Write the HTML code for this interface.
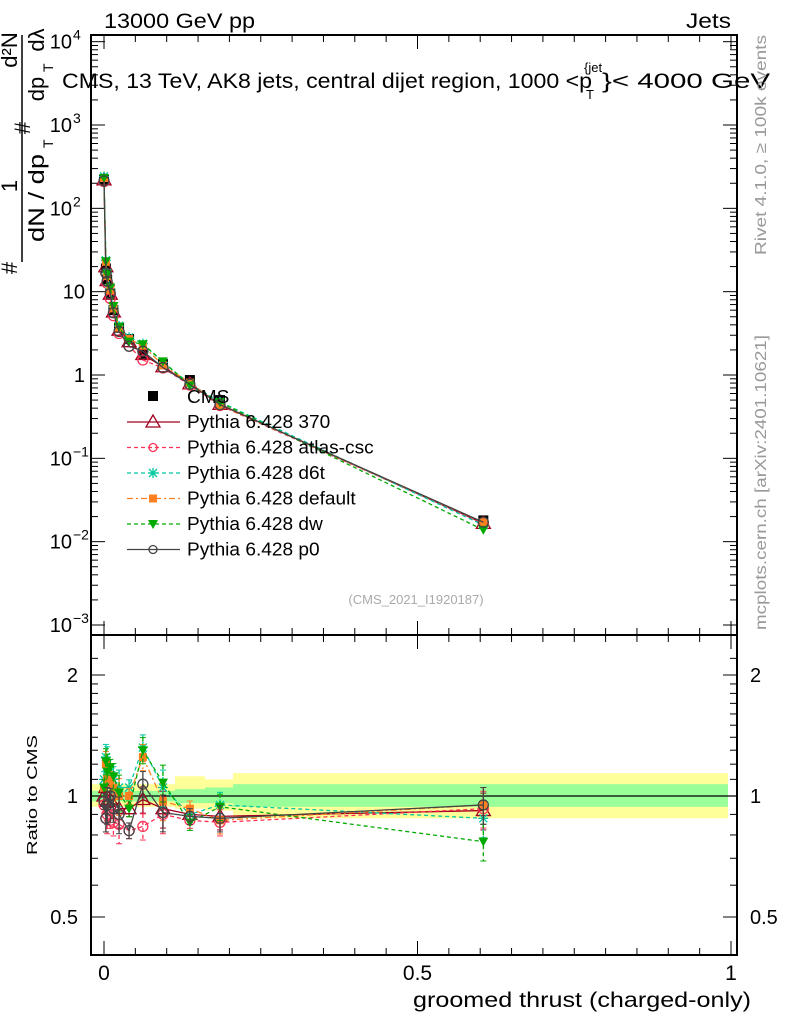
<!DOCTYPE html>
<html><head><meta charset="utf-8"><style>
html,body{margin:0;padding:0;background:#fff;}
svg{display:block;font-family:"Liberation Sans",sans-serif;}
</style></head><body>
<svg id="s" width="786" height="1024" viewBox="0 0 786 1024" xmlns="http://www.w3.org/2000/svg">
<rect width="786" height="1024" fill="#fff"/>
<g id="bands"></g>
<g id="g"></g>
<text x="104" y="28" font-size="21" textLength="151" lengthAdjust="spacingAndGlyphs">13000 GeV pp</text>
<text x="686" y="28" font-size="21" textLength="45" lengthAdjust="spacingAndGlyphs">Jets</text>
<text x="62" y="88" font-size="21" textLength="530" lengthAdjust="spacingAndGlyphs">CMS, 13 TeV, AK8 jets, central dijet region, 1000 &lt;p</text>
<text x="586" y="99" font-size="13">T</text>
<text x="584" y="72" font-size="13">{jet</text>
<text x="602" y="88" font-size="21" textLength="168" lengthAdjust="spacingAndGlyphs">}&lt; 4000 GeV</text>
<text x="416" y="604" font-size="13" fill="#aaa" text-anchor="middle">(CMS_2021_I1920187)</text>
<text x="413" y="1007" font-size="21" textLength="338" lengthAdjust="spacingAndGlyphs">groomed thrust (charged-only)</text>
<text transform="translate(766,255) rotate(-90)" font-size="16" fill="#999" textLength="220" lengthAdjust="spacingAndGlyphs">Rivet 4.1.0, ≥ 100k events</text>
<text transform="translate(766,630) rotate(-90)" font-size="16" fill="#999" textLength="295" lengthAdjust="spacingAndGlyphs">mcplots.cern.ch [arXiv:2401.10621]</text>
<text transform="translate(37,855) rotate(-90)" font-size="15" textLength="120" lengthAdjust="spacingAndGlyphs">Ratio to CMS</text>
<g transform="rotate(-90)" font-size="22">
 <line x1="-262" y1="22" x2="-35" y2="22" stroke="#000" stroke-width="1.5"/>
 <text x="-268" y="17" text-anchor="middle">#</text>
 <text x="-186" y="17" text-anchor="middle">1</text>
 <text x="-128" y="30" text-anchor="middle">#</text>
 <text x="-50" y="17" text-anchor="middle">d²N</text>
 <text x="-198" y="44" text-anchor="middle" textLength="88" lengthAdjust="spacingAndGlyphs">dN / dp</text>
 <text x="-148" y="53" font-size="14">T</text>
 <text x="-89" y="44" text-anchor="middle">dp</text>
 <text x="-72" y="53" font-size="14">T</text>
 <text x="-40" y="44" text-anchor="middle">dλ</text>
</g>
</svg>
<script>
const NS="http://www.w3.org/2000/svg";
const g=document.getElementById('g'),bg=document.getElementById('bands');
function el(t,a,p){const e=document.createElementNS(NS,t);for(const k in a)e.setAttribute(k,a[k]);(p||g).appendChild(e);return e;}
const L=91,R=737,T=35,M=635,B=955;
const X=x=>104+627*x;
const Y=v=>375-83.33*Math.log10(v);
const RY=r=>796-402*Math.log10(r);
const bandY=[[91,175,0.94,1.07,0.97,1.03],[175,205,0.93,1.12,0.96,1.04],[205,233,0.92,1.1,0.96,1.05],[233,728,0.88,1.14,0.94,1.07]];
bandY.forEach(b=>{el('rect',{x:b[0],y:RY(b[3]),width:b[1]-b[0],height:RY(b[2])-RY(b[3]),fill:'#ffff99'},bg);
el('rect',{x:b[0],y:RY(b[5]),width:b[1]-b[0],height:RY(b[4])-RY(b[5]),fill:'#99ff99'},bg);});
el('line',{x1:L,y1:796,x2:R,y2:796,stroke:'#000','stroke-width':1.2},bg);
el('rect',{x:L,y:T,width:R-L,height:M-T,fill:'none',stroke:'#000','stroke-width':2});
el('rect',{x:L,y:M,width:R-L,height:B-M,fill:'none',stroke:'#000','stroke-width':2});
for(let i=-1;i<=20;i++){const x=X(i*0.05);if(x<L||x>R)continue;const big=i%10==0;const l=big?14:7;
[[T,1],[M,-1],[M,1],[B,-1]].forEach(([y,d])=>el('line',{x1:x,x2:x,y1:y,y2:y+d*l,stroke:'#000','stroke-width':1}));}
[[0,'0'],[0.5,'0.5'],[1,'1']].forEach(([v,s])=>el('text',{x:X(v),y:980,'font-size':21,'text-anchor':'middle'}).textContent=s);
for(let e=-3;e<=4;e++){for(let m=1;m<10;m++){const v=m*Math.pow(10,e);const y=Y(v);if(y<T||y>M)continue;const l=m==1?14:7;
el('line',{x1:L,x2:L+l,y1:y,y2:y,stroke:'#000'});el('line',{x1:R,x2:R-l,y1:y,y2:y,stroke:'#000'});}}
const lab=[[-3,'10','−3'],[-2,'10','−2'],[-1,'10','−1'],[0,'1',''],[1,'10',''],[2,'10','2'],[3,'10','3'],[4,'10','4']];
lab.forEach(([e,b,s])=>{const y=Y(Math.pow(10,e))+7;const t=el('text',{x:s?72:85,y:y,'font-size':20,'text-anchor':'end'});t.textContent=b;
if(s){el('text',{x:73,y:y-9,'font-size':14}).textContent=s;}});
[0.5,0.6,0.7,0.8,0.9,1,1.1,1.2,1.3,1.4,1.5,1.6,1.7,1.8,1.9,2,2.2].forEach(v=>{const y=RY(v);if(y<M||y>B)return;const l=(v==0.5||v==1||v==2)?14:7;
el('line',{x1:L,x2:L+l,y1:y,y2:y,stroke:'#000'});el('line',{x1:R,x2:R-l,y1:y,y2:y,stroke:'#000'});});
[[2,'2'],[1,'1'],[0.5,'0.5']].forEach(([v,s])=>{el('text',{x:78,y:RY(v)+7,'font-size':20,'text-anchor':'end'}).textContent=s;el('text',{x:750,y:RY(v)+7,'font-size':20}).textContent=s;});
const xs=[0,0.003,0.005,0.01,0.015,0.024,0.04,0.062,0.094,0.137,0.185,0.605];
const cms=[220,19,14,9.5,6,3.7,2.7,1.8,1.35,0.87,0.5,0.018];
const S=[
{n:'Pythia 6.428 370',c:'#a00020',d:'',m:'tri',r:[1.0,1.05,0.97,0.98,0.95,0.93,0.93,0.98,0.93,0.9,0.89,0.92]},
{n:'Pythia 6.428 atlas-csc',c:'#ff3355',d:'4,3',m:'circ',r:[0.95,0.88,0.9,0.87,0.86,0.85,0.82,0.84,0.9,0.87,0.86,0.93]},
{n:'Pythia 6.428 d6t',c:'#00c8a0',d:'4,3',m:'star',r:[1.1,1.25,1.2,1.15,1.1,1.05,1.05,1.32,1.05,0.9,0.95,0.88]},
{n:'Pythia 6.428 default',c:'#ff8020',d:'6,3,2,3',m:'sq',r:[1.05,1.2,1.1,1.1,1.05,1.0,1.0,1.25,0.97,0.93,0.87,0.95]},
{n:'Pythia 6.428 dw',c:'#00aa00',d:'4,3',m:'tdn',r:[1.05,1.22,1.15,1.18,1.12,1.02,0.93,1.3,1.08,0.86,0.94,0.77]},
{n:'Pythia 6.428 p0',c:'#444',d:'',m:'circ',r:[0.97,0.88,0.95,1.0,0.93,0.9,0.82,1.07,0.91,0.89,0.88,0.95]}];
function mk(t,x,y,c,p,sc){p=p||g;sc=sc||1;
if(t=='tri')el('polygon',{points:`${x},${y-7*sc} ${x-7*sc},${y+5*sc} ${x+7*sc},${y+5*sc}`,fill:'none',stroke:c,'stroke-width':1.3},p);
else if(t=='circ')el('circle',{cx:x,cy:y,r:5*sc,fill:'none',stroke:c,'stroke-width':1.3},p);
else if(t=='sq')el('rect',{x:x-4,y:y-4,width:8,height:8,fill:c},p);
else if(t=='tdn')el('polygon',{points:`${x-5},${y-4} ${x+5},${y-4} ${x},${y+5}`,fill:c},p);
else if(t=='star'){el('path',{d:`M${x-5},${y}H${x+5}M${x},${y-5}V${y+5}M${x-4},${y-4}L${x+4},${y+4}M${x-4},${y+4}L${x+4},${y-4}`,stroke:c,'stroke-width':1.3},p);}
else if(t=='cms')el('rect',{x:x-5,y:y-5,width:10,height:10,fill:'#000'},p);}
const defs=el('defs',{});
const c1=el('clipPath',{id:'c1'},defs);el('rect',{x:L,y:T,width:R-L,height:M-T},c1);
const c2=el('clipPath',{id:'c2'},defs);el('rect',{x:L,y:M,width:R-L,height:B-M},c2);
const gm=el('g',{'clip-path':'url(#c1)'}),gr=el('g',{'clip-path':'url(#c2)'});
xs.forEach((x,i)=>mk('cms',X(x),Y(cms[i]),'#000',gm));
S.forEach(s=>{
 const pm=xs.map((x,i)=>X(x)+','+Y(cms[i]*s.r[i])).join(' ');
 el('polyline',{points:pm,fill:'none',stroke:s.c,'stroke-width':1.3,'stroke-dasharray':s.d},gm);
 const pr=xs.map((x,i)=>X(x)+','+RY(s.r[i])).join(' ');
 el('polyline',{points:pr,fill:'none',stroke:s.c,'stroke-width':1.3,'stroke-dasharray':s.d},gr);
 xs.forEach((x,i)=>{const e=0.045+0.03*(i%3);const y1=RY(s.r[i]*(1+e)),y2=RY(s.r[i]*(1-e));
  el('line',{x1:X(x),x2:X(x),y1:y1,y2:y2,stroke:s.c,'stroke-width':1.3,'stroke-dasharray':s.d},gr);
  el('line',{x1:X(x)-3,x2:X(x)+3,y1:y1,y2:y1,stroke:s.c},gr);el('line',{x1:X(x)-3,x2:X(x)+3,y1:y2,y2:y2,stroke:s.c},gr);
  mk(s.m,X(x),Y(cms[i]*s.r[i]),s.c,gm);mk(s.m,X(x),RY(s.r[i]),s.c,gr);});
});
mk('cms',153,396,'#000');
const ct=el('text',{x:187,y:403,'font-size':18});ct.textContent='CMS';
const legT=[ct];
S.forEach((s,i)=>{const y=422+25.5*i;el('line',{x1:127,x2:180,y1:y,y2:y,stroke:s.c,'stroke-width':1.3,'stroke-dasharray':s.d});
mk(s.m,153,y,s.c,g,s.m=='circ'?0.8:1);const t=el('text',{x:187,y:y+6,'font-size':18});t.textContent=s.n;legT.push(t);});
legT.forEach(t=>{const w=t.getComputedTextLength();t.setAttribute('textLength',w*1.06);t.setAttribute('lengthAdjust','spacingAndGlyphs');});
</script>
</body></html>
